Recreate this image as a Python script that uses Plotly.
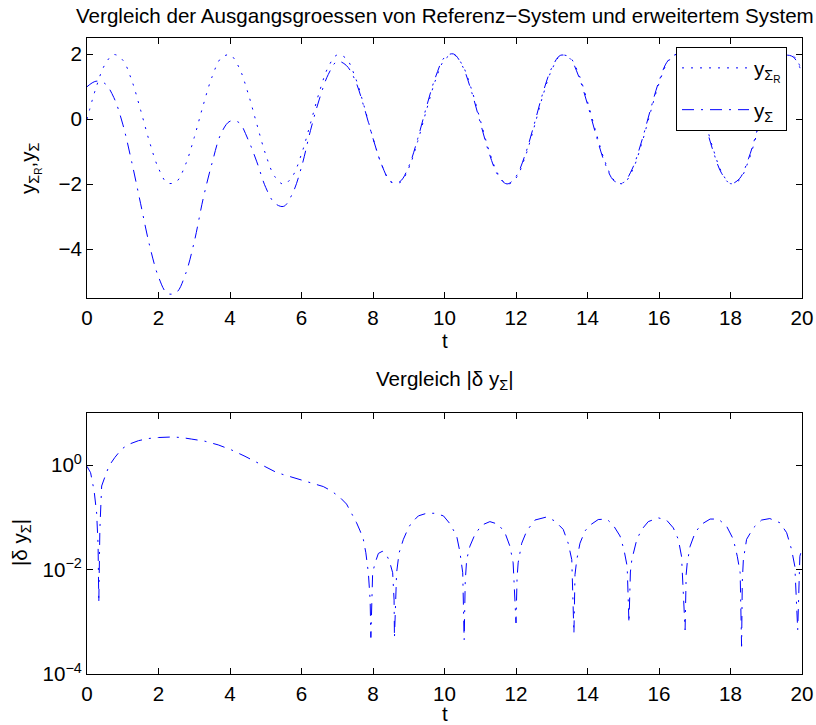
import plotly.graph_objects as go
from plotly.subplots import make_subplots

# ---------------- data ----------------
t_top = [0, 0.25, 0.5, 0.75, 1, 1.25, 1.5, 1.75, 2, 2.25, 2.5, 2.75, 3, 3.25, 3.5, 3.75,
         4, 4.25, 4.5, 4.75, 5, 5.25, 5.5, 5.75, 6, 6.25, 6.5, 6.75, 7, 7.25, 7.5, 7.75,
         8, 8.25, 8.5, 8.75, 9, 9.25, 9.5, 9.75, 10, 10.25, 10.5, 10.75, 11, 11.25, 11.5, 11.75,
         12, 12.25, 12.5, 12.75, 13, 13.25, 13.5, 13.75, 14, 14.25, 14.5, 14.75, 15, 15.25, 15.5, 15.75,
         16, 16.25, 16.5, 16.75, 17, 17.25, 17.5, 17.75, 18, 18.25, 18.5, 18.75, 19, 19.25, 19.5, 19.75, 20]

y_ref = [0, 0.96, 1.68, 1.99, 1.82, 1.20, 0.28, -0.70, -1.51, -1.96, -1.92, -1.41, -0.56, 0.43, 1.31, 1.88,
         1.98, 1.60, 0.82, -0.15, -1.09, -1.76, -2.00, -1.75, -1.07, -0.13, 0.84, 1.61, 1.98, 1.87, 1.30, 0.41,
         -0.58, -1.42, -1.92, -1.95, -1.50, -0.68, 0.30, 1.21, 1.83, 1.99, 1.67, 0.94, -0.02, -0.98, -1.69, -2.00,
         -1.81, -1.18, -0.27, 0.72, 1.52, 1.96, 1.91, 1.40, 0.54, -0.45, -1.33, -1.88, -1.98, -1.59, -0.81, 0.17,
         1.10, 1.77, 2.00, 1.74, 1.06, 0.11, -0.86, -1.62, -1.98, -1.87, -1.29, -0.40, 0.59, 1.44, 1.93, 1.95, 1.49]

y_sys = [1.00, 1.17, 1.10, 0.67, -0.15, -1.31, -2.60, -3.88, -4.85, -5.36, -5.33, -4.78, -3.77, -2.44, -1.34, -0.44,
         -0.06, -0.10, -0.61, -1.31, -2.10, -2.58, -2.68, -2.28, -1.47, -0.35, 0.62, 1.38, 1.78, 1.66, 1.20, 0.37,
         -0.59, -1.42, -1.93, -1.92, -1.45, -0.60, 0.40, 1.30, 1.90, 2.01, 1.64, 0.87, -0.10, -1.05, -1.73, -1.99,
         -1.76, -1.11, -0.19, 0.80, 1.58, 1.97, 1.88, 1.33, 0.46, -0.53, -1.39, -1.90, -1.95, -1.53, -0.73, 0.25,
         1.17, 1.80, 1.99, 1.69, 0.99, 0.03, -0.93, -1.66, -1.98, -1.83, -1.22, -0.32, 0.67, 1.50, 1.95, 1.92, 1.43]

t_err = [0.0, 0.1, 0.2, 0.27, 0.31, 0.33, 0.36, 0.41, 0.52, 0.62, 0.78, 0.97, 1.16, 1.44, 1.71, 2.0,
         2.37, 2.65, 2.93, 3.3, 3.67, 4.05, 4.42, 4.7, 4.93, 5.31, 5.59, 5.96, 6.33, 6.61, 6.84, 7.08,
         7.26, 7.4, 7.54, 7.64, 7.73, 7.8, 7.87, 7.92, 7.94, 7.99, 8.06, 8.15, 8.26, 8.36, 8.46, 8.55,
         8.59, 8.6, 8.66, 8.73, 8.85, 8.99, 9.08, 9.27, 9.5, 9.73, 9.97, 10.15, 10.34, 10.43, 10.51, 10.55,
         10.58, 10.62, 10.71, 10.85, 11.04, 11.27, 11.5, 11.69, 11.83, 11.92, 12.0, 12.03, 12.06, 12.16,
         12.3, 12.53, 12.86, 13.09, 13.32, 13.46, 13.56, 13.62, 13.65, 13.7, 13.79, 13.93, 14.07, 14.3,
         14.54, 14.72, 14.91, 15.02, 15.11, 15.16, 15.2, 15.24, 15.38, 15.52, 15.7, 15.98, 16.21, 16.4,
         16.54, 16.63, 16.73, 16.76, 16.79, 16.87, 17.01, 17.19, 17.43, 17.66, 17.89, 18.08, 18.19, 18.27,
         18.31, 18.33, 18.36, 18.45, 18.64, 18.87, 19.1, 19.38, 19.57, 19.71, 19.8, 19.88, 19.91, 19.94, 20.0]

d_err = [0.95, 0.72, 0.32, 0.12, 0.03, 0.0023, 0.06, 0.4, 0.65, 0.98, 1.41, 2.04, 2.5, 2.95, 3.24, 3.39,
         3.47, 3.39, 3.16, 2.88, 2.45, 1.95, 1.48, 1.2, 0.98, 0.72, 0.63, 0.52, 0.45, 0.39, 0.32, 0.24,
         0.18, 0.12, 0.079, 0.055, 0.038, 0.021, 0.0087, 0.0026, 0.0005, 0.0087, 0.0135, 0.0204, 0.0224, 0.0204, 0.0145, 0.0087,
         0.0026, 0.00049, 0.0087, 0.021, 0.038, 0.063, 0.079, 0.107, 0.12, 0.12, 0.107, 0.076, 0.044, 0.022, 0.0087, 0.00045,
         0.006, 0.0155, 0.028, 0.047, 0.071, 0.083, 0.074, 0.051, 0.028, 0.0135, 0.00095, 0.007, 0.0135, 0.032,
         0.055, 0.089, 0.102, 0.085, 0.059, 0.032, 0.0155, 0.0006, 0.008, 0.0155, 0.032, 0.055, 0.071, 0.091,
         0.093, 0.071, 0.044, 0.024, 0.0115, 0.00095, 0.009, 0.0155, 0.038, 0.059, 0.083, 0.098, 0.089, 0.063,
         0.038, 0.018, 0.0007, 0.008, 0.0135, 0.028, 0.051, 0.074, 0.093, 0.093, 0.068, 0.038, 0.018, 0.0087,
         0.00034, 0.006, 0.0155, 0.038, 0.063, 0.089, 0.095, 0.079, 0.051, 0.024, 0.0115, 0.0007, 0.008, 0.018, 0.025]

x_ticks = [0, 2, 4, 6, 8, 10, 12, 14, 16, 18, 20]
y_ticks_top = [-4, -2, 0, 2]
y_ticktext_top = ["\u22124", "\u22122", "0", "2"]
y_ticks_log = [1e-4, 1e-2, 1]
y_ticktext_log = ["10<sup>\u22124</sup>", "10<sup>\u22122</sup>", "10<sup>0</sup>"]

# ---------------- figure ----------------
W, H = 816, 725
FONT = "Liberation Sans, Arial, Helvetica, sans-serif"
FS = 20.6
BLUE = "#0000ff"
DOT = "2px,7px"
DASHDOT = "12px,7px,2px,7px"

fig = make_subplots(rows=2, cols=1)

fig.add_trace(go.Scatter(x=t_top, y=y_ref, mode="lines", line_shape="spline",
                         name="y<sub>\u03a3<sub>R</sub></sub>", legendgroup="a",
                         line=dict(color=BLUE, width=1, dash=DOT)), row=1, col=1)
fig.add_trace(go.Scatter(x=t_top, y=y_sys, mode="lines", line_shape="spline",
                         name="y<sub>\u03a3</sub>", legendgroup="b",
                         line=dict(color=BLUE, width=1, dash=DASHDOT)), row=1, col=1)
fig.add_trace(go.Scatter(x=t_err, y=d_err, mode="lines", showlegend=False,
                         line=dict(color=BLUE, width=1, dash=DASHDOT)), row=2, col=1)

def px_x(p):
    return p / W

def px_y(p):
    return 1 - p / H

axis_common = dict(showline=True, linecolor="black", linewidth=1, mirror="ticks",
                   ticks="inside", ticklen=6, tickwidth=1, tickcolor="black",
                   showgrid=False, zeroline=False, automargin=False,
                   tickfont=dict(family=FONT, size=FS, color="black"))

fig.update_xaxes(range=[0, 20], tickvals=x_ticks, domain=[px_x(87), px_x(802)],
                 ticklabelstandoff=1, **axis_common)
fig.update_yaxes(**axis_common)
fig.update_yaxes(range=[-5.5, 2.5], tickvals=y_ticks_top, ticktext=y_ticktext_top,
                 domain=[px_y(298), px_y(38)], row=1, col=1)
fig.update_yaxes(type="log", range=[-4, 1], tickvals=y_ticks_log, ticktext=y_ticktext_log,
                 domain=[px_y(674), px_y(413)], row=2, col=1)

ann_font = dict(family=FONT, size=FS, color="black")
annotations = [
    dict(text="Vergleich der Ausgangsgroessen von Referenz\u2212System und erweitertem System",
         x=px_x(445), y=px_y(15)),
    dict(text="t", x=px_x(445), y=px_y(340)),
    dict(text="y<sub>\u03a3<sub>R</sub></sub>,y<sub>\u03a3</sub>", x=px_x(30), y=px_y(168), textangle=-90),
    dict(text="Vergleich |\u03b4 y<sub>\u03a3</sub>|", x=px_x(445), y=px_y(380)),
    dict(text="t", x=px_x(445), y=px_y(713)),
    dict(text="|\u03b4 y<sub>\u03a3</sub>|", x=px_x(21), y=px_y(543), textangle=-90),
]
for a in annotations:
    a.update(xref="paper", yref="paper", xanchor="center", yanchor="middle",
             showarrow=False, font=ann_font)

fig.update_layout(
    width=W, height=H,
    margin=dict(l=0, r=0, t=0, b=0, autoexpand=False),
    paper_bgcolor="white", plot_bgcolor="white",
    font=dict(family=FONT, size=FS, color="black"),
    annotations=annotations,
    showlegend=True,
    legend=dict(x=px_x(676), y=px_y(47), xanchor="left", yanchor="top",
                bgcolor="white", bordercolor="black", borderwidth=1,
                font=dict(family=FONT, size=FS, color="black"),
                itemwidth=67, traceorder="grouped", tracegroupgap=12),
)

fig.write_html("out.html", config={"displayModeBar": False},
               post_script="document.body.style.margin='0px';")
